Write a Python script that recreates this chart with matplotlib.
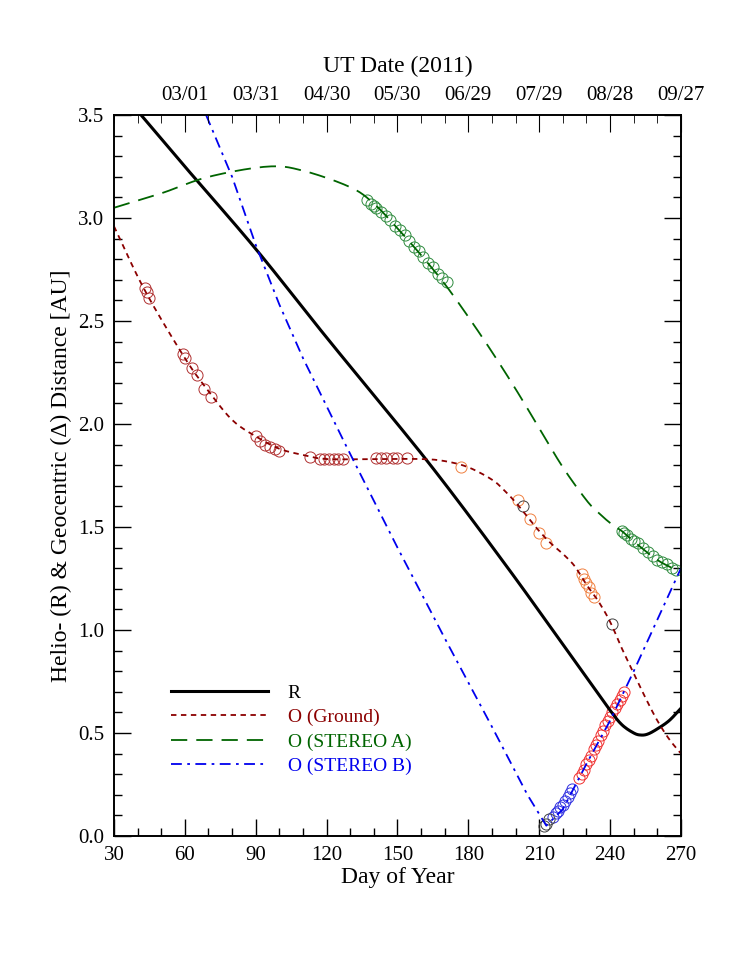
import numpy as np
import matplotlib
matplotlib.use("Agg")
import matplotlib.pyplot as plt
from matplotlib.ticker import MultipleLocator

plt.rcParams["font.family"] = "Liberation Serif"

# curves (day of year, AU)
r_day = [40, 60, 90, 120, 150, 164, 180, 200, 210, 220, 230, 240, 245, 250, 253, 256, 260, 265, 270]
r_val = [3.52, 3.25, 2.85, 2.42, 2.00, 1.80, 1.56, 1.25, 1.09, 0.93, 0.77, 0.61, 0.54, 0.50, 0.49, 0.495, 0.52, 0.56, 0.62]
g_day = [30, 43, 60, 70, 80, 90, 100, 110, 120, 140, 160, 170, 180, 190, 195, 200, 205, 210, 215, 220, 225, 230, 235, 240, 245, 250, 255, 260, 265, 270]
g_val = [2.96, 2.65, 2.32, 2.16, 2.02, 1.94, 1.88, 1.85, 1.83, 1.83, 1.83, 1.82, 1.79, 1.73, 1.68, 1.62, 1.55, 1.48, 1.42, 1.37, 1.31, 1.22, 1.14, 1.04, 0.91, 0.79, 0.67, 0.56, 0.47, 0.40]
a_day = [30, 50, 70, 95, 110, 130, 140, 150, 160, 170, 180, 190, 200, 210, 220, 230, 235, 240, 245, 250, 260, 270]
a_val = [3.05, 3.12, 3.20, 3.25, 3.23, 3.15, 3.07, 2.95, 2.82, 2.68, 2.52, 2.35, 2.17, 1.98, 1.79, 1.63, 1.57, 1.52, 1.48, 1.43, 1.34, 1.28]
b_day = [69, 80, 90, 100, 110, 128, 150, 170, 190, 205, 213, 220, 230, 240, 250, 260, 270]
b_val = [3.50, 3.20, 2.87, 2.58, 2.32, 1.90, 1.40, 0.96, 0.53, 0.20, 0.05, 0.13, 0.35, 0.56, 0.80, 1.05, 1.30]

# observation markers
og_day = [43, 44, 45, 59, 60, 63, 65, 68, 71, 90, 92, 94, 96, 98, 100, 113, 117, 119, 121, 123, 125, 127, 141, 143, 145, 148, 150, 154]
og_val = [2.66, 2.64, 2.61, 2.34, 2.32, 2.27, 2.24, 2.17, 2.13, 1.94, 1.92, 1.90, 1.89, 1.88, 1.87, 1.84, 1.83, 1.83, 1.83, 1.83, 1.83, 1.83, 1.835, 1.835, 1.835, 1.835, 1.835, 1.835]
oo_day = [177, 201, 206, 210, 213, 228, 229, 230, 231, 232, 233]
oo_val = [1.79, 1.63, 1.54, 1.47, 1.42, 1.27, 1.25, 1.23, 1.21, 1.18, 1.16]
ok_day = [203, 241, 212, 213, 214]
ok_val = [1.60, 1.03, 0.05, 0.06, 0.08]
oa_day = [137, 139, 140, 141, 143, 145, 147, 149, 151, 153, 155, 157, 159, 161, 163, 165, 167, 169, 171,
          245, 246, 247, 249, 250, 252, 254, 256, 258, 260, 262, 264, 266, 268]
oa_val = [3.09, 3.07, 3.06, 3.05, 3.03, 3.01, 2.99, 2.96, 2.94, 2.92, 2.89, 2.86, 2.84, 2.81, 2.78, 2.76, 2.73, 2.71, 2.69,
          1.48, 1.47, 1.46, 1.44, 1.43, 1.42, 1.40, 1.38, 1.36, 1.34, 1.33, 1.32, 1.30, 1.29]
ob_day = [216, 217, 218, 219, 220, 221, 222, 223, 224]
ob_val = [0.09, 0.11, 0.12, 0.14, 0.15, 0.17, 0.19, 0.21, 0.23]
or_day = [227, 228, 229, 230, 231, 232, 233, 234, 235, 236, 237, 238, 239, 240, 241, 242, 243, 244, 245, 246]
or_val = [0.28, 0.30, 0.32, 0.35, 0.37, 0.39, 0.42, 0.44, 0.46, 0.49, 0.51, 0.54, 0.56, 0.58, 0.60, 0.62, 0.64, 0.66, 0.68, 0.70]

top_ticks = [60, 90, 120, 150, 180, 210, 240, 270]
top_labels = ["03/01", "03/31", "04/30", "05/30", "06/29", "07/29", "08/28", "09/27"]


def smooth(xs, ys, n=12):
    """Catmull-Rom rendering of a curve through the given points."""
    x = np.asarray(xs, float); y = np.asarray(ys, float)
    px = np.concatenate([[2 * x[0] - x[1]], x, [2 * x[-1] - x[-2]]])
    py = np.concatenate([[2 * y[0] - y[1]], y, [2 * y[-1] - y[-2]]])
    ox, oy = [], []
    t = np.linspace(0, 1, n, endpoint=False)
    for i in range(1, len(px) - 2):
        for p, o in ((px, ox), (py, oy)):
            p0, p1, p2, p3 = p[i - 1], p[i], p[i + 1], p[i + 2]
            o.extend(0.5 * (2 * p1 + (-p0 + p2) * t + (2 * p0 - 5 * p1 + 4 * p2 - p3) * t ** 2
                            + (-p0 + 3 * p1 - 3 * p2 + p3) * t ** 3))
    ox.append(x[-1]); oy.append(y[-1])
    return ox, oy


fig = plt.figure(figsize=(7.47, 9.67), dpi=100)
ax = fig.add_axes([0.1526, 0.1355, 0.7590, 0.7455])

ms = 8
def circles(d, v, c):
    ax.plot(d, v, "o", mfc="none", mec=c, ms=ms, mew=0.7, zorder=3)

circles(og_day, og_val, "#b03030")
circles(oo_day, oo_val, "#f08040")
circles(oa_day, oa_val, "#2e8b3e")
circles(ob_day, ob_val, "#3030e0")
circles(or_day, or_val, "#f03030")
circles(ok_day, ok_val, "#404040")

ax.plot(*smooth(r_day, r_val), color="black", lw=2.2, label="R", zorder=4)
ax.plot(*smooth(g_day, g_val), color="#8b0000", lw=1.3, ls=(0, (3, 2.5)), label="O (Ground)", zorder=4)
ax.plot(*smooth(a_day, a_val), color="#006400", lw=1.3, ls=(0, (9, 5)), label="O (STEREO A)", zorder=4)
ax.plot(b_day, b_val, color="#0000ee", lw=1.3, ls=(0, (6, 3, 1.5, 3)), label="O (STEREO B)", zorder=4)

ax.set_xlim(30, 270)
ax.set_ylim(0, 3.5)
ax.xaxis.set_major_locator(MultipleLocator(30))
ax.xaxis.set_minor_locator(MultipleLocator(10))
ax.yaxis.set_major_locator(MultipleLocator(0.5))
ax.yaxis.set_minor_locator(MultipleLocator(0.1))
ax.yaxis.set_major_formatter(matplotlib.ticker.FormatStrFormatter("%.1f"))
ax.tick_params(which="both", direction="in", right=True, labelsize=15, pad=7)
ax.tick_params(which="major", length=12, width=1)
ax.tick_params(which="minor", length=6, width=1)
ax.set_xlabel("Day of Year", fontsize=17, labelpad=2)
ax.set_ylabel("Helio- (R) & Geocentric (Δ) Distance [AU]", fontsize=17)

top = ax.twiny()
top.set_xlim(30, 270)
top.set_xticks(top_ticks)
top.set_xticklabels(top_labels)
top.xaxis.set_minor_locator(MultipleLocator(10))
top.tick_params(which="both", direction="in", labelsize=15, pad=7)
top.tick_params(which="major", length=12)
top.tick_params(which="minor", length=6)
top.set_xlabel("UT Date (2011)", fontsize=17, labelpad=10)

for a in (ax, top):
    for s in a.spines.values():
        s.set_linewidth(1.2)

leg = ax.legend(loc="upper left", bbox_to_anchor=(0.07, 0.235), frameon=False,
                handlelength=5.0, fontsize=14, labelspacing=0.35, handletextpad=1.0)
for t, c in zip(leg.get_texts(), ["black", "#8b0000", "#006400", "#0000ee"]):
    t.set_color(c)

fig.savefig("out.png", dpi=100)
